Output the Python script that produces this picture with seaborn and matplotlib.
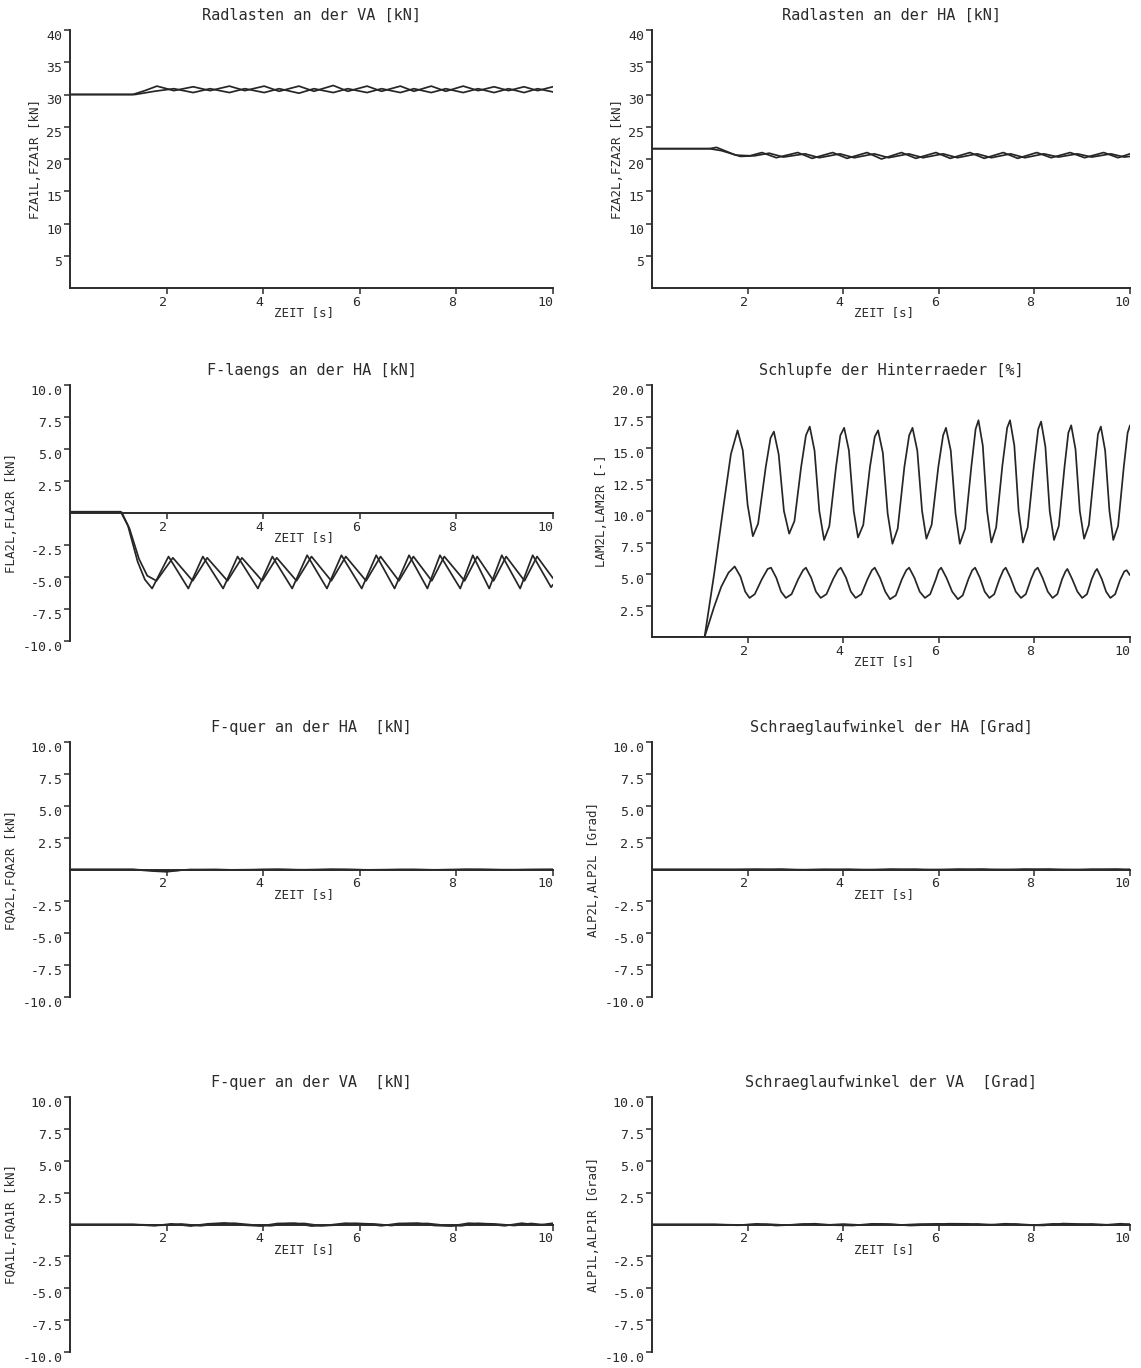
import matplotlib
matplotlib.use("Agg")
import matplotlib.pyplot as plt
import seaborn as sns

# ---------------- data ----------------
# Panel 1: Radlasten an der VA
T_FZA1L = [0, 1.30, 1.55, 1.80, 2.15, 2.55, 2.90, 3.30, 3.62, 4.02, 4.33, 4.74, 5.05, 5.45,
           5.75, 6.15, 6.45, 6.84, 7.12, 7.48, 7.78, 8.14, 8.45, 8.78, 9.08, 9.40, 9.68, 10.0]
FZA1L = [30.0, 30.0, 30.6, 31.3, 30.6, 31.2, 30.6, 31.3, 30.6, 31.3, 30.5, 31.3, 30.5, 31.4,
         30.5, 31.3, 30.5, 31.3, 30.5, 31.3, 30.5, 31.3, 30.6, 31.2, 30.6, 31.2, 30.6, 31.2]
T_FZA1R = [0, 1.35, 1.75, 2.15, 2.55, 2.90, 3.30, 3.62, 4.02, 4.33, 4.74, 5.05, 5.45, 5.75,
           6.15, 6.45, 6.84, 7.12, 7.48, 7.78, 8.14, 8.45, 8.78, 9.08, 9.40, 9.68, 10.0]
FZA1R = [30.0, 30.0, 30.5, 30.9, 30.3, 30.9, 30.3, 30.9, 30.3, 30.9, 30.2, 30.9, 30.3, 30.9,
         30.3, 30.9, 30.3, 30.9, 30.3, 30.9, 30.3, 30.9, 30.3, 30.9, 30.3, 30.9, 30.4]

# Panel 2: Radlasten an der HA
T_FZA2L = [0, 1.20, 1.35, 1.75, 2.05, 2.30, 2.60, 3.05, 3.35, 3.78, 4.08, 4.50, 4.80, 5.22,
           5.52, 5.94, 6.24, 6.65, 6.95, 7.35, 7.65, 8.05, 8.35, 8.75, 9.05, 9.45, 9.75, 10.0]
FZA2L = [21.6, 21.6, 21.8, 20.6, 20.5, 21.0, 20.2, 21.0, 20.1, 21.0, 20.1, 21.0, 20.0, 21.0,
         20.1, 21.0, 20.1, 21.0, 20.1, 21.0, 20.1, 21.0, 20.2, 21.0, 20.2, 21.0, 20.2, 20.8]
T_FZA2R = [0, 1.20, 1.45, 1.85, 2.15, 2.45, 2.75, 3.20, 3.50, 3.93, 4.23, 4.65, 4.95, 5.37,
           5.67, 6.09, 6.39, 6.80, 7.10, 7.50, 7.80, 8.20, 8.50, 8.90, 9.20, 9.60, 9.88, 10.0]
FZA2R = [21.6, 21.6, 21.3, 20.4, 20.5, 20.9, 20.3, 20.8, 20.2, 20.8, 20.2, 20.8, 20.2, 20.8,
         20.2, 20.8, 20.2, 20.8, 20.2, 20.8, 20.2, 20.8, 20.3, 20.8, 20.3, 20.8, 20.3, 20.4]

# Panel 3: F-laengs an der HA
T_FLA2L = [0, 1.05, 1.20, 1.40, 1.55, 1.70, 2.04, 2.45, 2.75, 3.17, 3.47, 3.89, 4.19, 4.60,
           4.91, 5.32, 5.62, 6.04, 6.34, 6.72, 7.02, 7.40, 7.66, 8.08, 8.34, 8.68, 8.94, 9.32,
           9.58, 9.96, 10.0]
FLA2L = [0.1, 0.1, -1.0, -3.8, -5.2, -5.9, -3.4, -5.9, -3.4, -5.9, -3.4, -5.9, -3.4, -5.9,
         -3.3, -5.9, -3.3, -5.9, -3.3, -5.9, -3.3, -5.9, -3.3, -5.9, -3.3, -5.9, -3.3, -5.9,
         -3.3, -5.8, -5.6]
T_FLA2R = [0, 1.07, 1.23, 1.43, 1.60, 1.79, 2.13, 2.54, 2.84, 3.26, 3.56, 3.98, 4.28, 4.69,
           5.00, 5.41, 5.71, 6.13, 6.43, 6.81, 7.11, 7.49, 7.75, 8.17, 8.43, 8.77, 9.03, 9.41,
           9.67, 10.0]
FLA2R = [0.05, 0.05, -1.2, -3.6, -4.9, -5.3, -3.5, -5.3, -3.5, -5.3, -3.5, -5.3, -3.5, -5.3,
         -3.4, -5.3, -3.4, -5.3, -3.4, -5.3, -3.4, -5.3, -3.4, -5.3, -3.4, -5.3, -3.4, -5.3,
         -3.4, -5.1]

# Panel 4: Schlupfe der Hinterraeder
T_LAM_HI = [0, 1.10, 1.30, 1.50, 1.65, 1.79, 1.90, 2.00, 2.11, 2.22, 2.38, 2.48, 2.55, 2.65,
            2.76, 2.87, 2.98, 3.12, 3.22, 3.30, 3.40, 3.50, 3.60, 3.71, 3.85, 3.94, 4.02, 4.12,
            4.22, 4.31, 4.42, 4.56, 4.66, 4.73, 4.83, 4.93, 5.03, 5.14, 5.28, 5.38, 5.45, 5.55,
            5.65, 5.74, 5.85, 5.99, 6.09, 6.15, 6.25, 6.35, 6.44, 6.55, 6.68, 6.77, 6.83, 6.92,
            7.01, 7.10, 7.20, 7.33, 7.43, 7.49, 7.58, 7.67, 7.76, 7.86, 7.99, 8.08, 8.14, 8.23,
            8.32, 8.41, 8.51, 8.63, 8.71, 8.77, 8.86, 8.95, 9.04, 9.14, 9.26, 9.33, 9.39, 9.48,
            9.57, 9.65, 9.75, 9.87, 9.95, 10.0]
LAM_HI = [0.0, 0.0, 5.0, 10.5, 14.5, 16.4, 14.8, 10.5, 8.0, 9.0, 13.5, 15.8, 16.3, 14.5,
          10.0, 8.2, 9.2, 13.5, 16.0, 16.7, 14.8, 10.0, 7.7, 8.8, 13.5, 16.0, 16.6, 14.8,
          10.0, 7.9, 8.9, 13.5, 15.9, 16.4, 14.6, 9.8, 7.4, 8.6, 13.5, 16.0, 16.6, 14.8,
          10.0, 7.8, 8.9, 13.5, 16.0, 16.6, 14.8, 9.8, 7.4, 8.6, 13.5, 16.5, 17.2, 15.2,
          10.0, 7.5, 8.7, 13.6, 16.6, 17.2, 15.2, 10.0, 7.5, 8.7, 13.6, 16.5, 17.1, 15.1,
          10.0, 7.7, 8.8, 13.5, 16.2, 16.8, 14.9, 10.0, 7.8, 8.9, 13.5, 16.1, 16.7, 14.8,
          10.0, 7.7, 8.8, 13.5, 16.2, 16.8]
T_LAM_LO = [0, 1.10, 1.30, 1.45, 1.60, 1.73, 1.85, 1.95, 2.04, 2.15, 2.30, 2.42, 2.49, 2.60,
            2.70, 2.80, 2.92, 3.06, 3.16, 3.22, 3.33, 3.43, 3.53, 3.65, 3.79, 3.89, 3.95, 4.06,
            4.16, 4.26, 4.38, 4.51, 4.60, 4.66, 4.77, 4.88, 4.98, 5.10, 5.23, 5.32, 5.38, 5.49,
            5.60, 5.71, 5.82, 5.94, 6.00, 6.05, 6.16, 6.28, 6.40, 6.50, 6.62, 6.70, 6.76, 6.86,
            6.96, 7.06, 7.16, 7.27, 7.35, 7.40, 7.50, 7.61, 7.72, 7.82, 7.93, 8.01, 8.07, 8.17,
            8.28, 8.38, 8.48, 8.58, 8.65, 8.69, 8.79, 8.90, 9.00, 9.10, 9.20, 9.27, 9.31, 9.41,
            9.50, 9.59, 9.69, 9.79, 9.88, 9.93, 10.0]
LAM_LO = [0.0, 0.0, 2.4, 4.0, 5.1, 5.6, 4.8, 3.6, 3.1, 3.4, 4.6, 5.4, 5.5, 4.7,
          3.6, 3.1, 3.4, 4.6, 5.3, 5.5, 4.7, 3.6, 3.1, 3.4, 4.6, 5.3, 5.5, 4.7,
          3.6, 3.1, 3.4, 4.6, 5.3, 5.5, 4.7, 3.6, 3.0, 3.3, 4.6, 5.3, 5.5, 4.7,
          3.6, 3.1, 3.4, 4.6, 5.3, 5.5, 4.7, 3.6, 3.0, 3.3, 4.6, 5.3, 5.5, 4.7,
          3.6, 3.1, 3.4, 4.6, 5.3, 5.5, 4.7, 3.6, 3.1, 3.4, 4.6, 5.3, 5.5, 4.7,
          3.6, 3.1, 3.4, 4.6, 5.2, 5.4, 4.6, 3.6, 3.1, 3.4, 4.6, 5.2, 5.4, 4.6,
          3.6, 3.1, 3.4, 4.5, 5.2, 5.3, 4.9]

# Panel 5: F-quer an der HA
T_FQA2L = [0, 1.3, 1.7, 2.0, 2.3, 3.0, 3.6, 4.3, 5.0, 5.7, 6.4, 7.1, 7.8, 8.5, 9.2, 10.0]
FQA2L = [0, 0, -0.12, -0.18, -0.05, 0.0, -0.05, 0.02, -0.04, 0.0, -0.04, 0.0, -0.04, 0.0, -0.03, 0.0]
T_FQA2R = [0, 1.3, 1.8, 2.1, 2.5, 3.3, 4.0, 4.7, 5.4, 6.1, 6.8, 7.5, 8.2, 8.9, 9.6, 10.0]
FQA2R = [0, 0, -0.08, -0.1, 0.0, -0.03, 0.0, -0.03, 0.02, -0.03, 0.0, -0.03, 0.02, -0.02, 0.0, 0.0]

# Panel 6: Schraeglaufwinkel der HA
T_ALP2A = [0, 1.3, 2.0, 2.7, 3.4, 4.1, 4.8, 5.5, 6.2, 6.9, 7.6, 8.3, 9.0, 9.7, 10.0]
ALP2A = [0, 0, -0.05, 0.03, -0.05, 0.02, -0.04, 0.02, -0.04, 0.03, -0.03, 0.03, -0.03, 0.03, 0.0]
T_ALP2B = [0, 1.3, 2.2, 2.9, 3.6, 4.3, 5.0, 5.7, 6.4, 7.1, 7.8, 8.5, 9.2, 9.9, 10.0]
ALP2B = [0, 0, 0.03, -0.04, 0.02, -0.04, 0.03, -0.03, 0.03, -0.03, 0.03, -0.03, 0.02, -0.02, 0.0]

# Panel 7: F-quer an der VA
T_FQA1L = [0, 1.3, 1.75, 2.1, 2.5, 2.85, 3.2, 3.6, 3.95, 4.3, 4.65, 5.0, 5.35, 5.7, 6.1, 6.45,
           6.8, 7.2, 7.55, 7.9, 8.25, 8.6, 9.0, 9.35, 9.7, 10.0]
FQA1L = [0, 0, -0.1, 0.05, -0.12, 0.05, 0.12, -0.05, -0.12, 0.08, 0.1, -0.12, -0.05, 0.1, 0.05,
         -0.1, 0.08, 0.1, -0.08, -0.12, 0.1, 0.05, -0.1, 0.1, -0.05, 0.1]
T_FQA1R = [0, 1.3, 1.9, 2.3, 2.7, 3.05, 3.4, 3.8, 4.15, 4.5, 4.85, 5.2, 5.55, 5.9, 6.3, 6.65,
           7.0, 7.4, 7.75, 8.1, 8.45, 8.8, 9.2, 9.55, 9.85, 10.0]
FQA1R = [0, 0, -0.06, 0.04, -0.1, 0.04, 0.1, -0.04, -0.1, 0.06, 0.08, -0.1, -0.04, 0.08, 0.04,
         -0.08, 0.06, 0.08, -0.06, -0.1, 0.08, 0.04, -0.08, 0.08, -0.04, 0.05]

# Panel 8: Schraeglaufwinkel der VA
T_ALP1L = [0, 1.3, 1.8, 2.2, 2.6, 3.0, 3.4, 3.8, 4.2, 4.6, 5.0, 5.4, 5.8, 6.2, 6.6, 7.0, 7.4,
           7.8, 8.2, 8.6, 9.0, 9.4, 9.8, 10.0]
ALP1L = [0, 0, -0.06, 0.05, -0.08, -0.02, 0.06, -0.05, -0.08, 0.05, 0.02, -0.08, -0.03, 0.06,
         0.05, -0.05, 0.06, -0.05, -0.07, 0.07, 0.03, -0.06, 0.06, 0.0]
T_ALP1R = [0, 1.3, 1.9, 2.4, 2.8, 3.2, 3.6, 4.0, 4.4, 4.8, 5.2, 5.6, 6.0, 6.4, 6.8, 7.2, 7.6,
           8.0, 8.4, 8.8, 9.2, 9.6, 10.0]
ALP1R = [0, 0, -0.04, 0.03, -0.05, 0.04, -0.05, 0.03, -0.05, 0.04, -0.04, 0.03, 0.05, -0.04,
         0.04, -0.03, 0.04, -0.05, 0.05, -0.03, 0.04, -0.04, 0.02]

X_TICKS = [2, 4, 6, 8, 10]
X_TICKLABELS = ["2", "4", "6", "8", "10"]
Y_TICKS_LOAD = [5, 10, 15, 20, 25, 30, 35, 40]
Y_TICKS_SYM = [-10, -7.5, -5, -2.5, 2.5, 5, 7.5, 10]
Y_TICKS_SLIP = [2.5, 5, 7.5, 10, 12.5, 15, 17.5, 20]

TITLES = ["Radlasten an der VA [kN]", "Radlasten an der HA [kN]",
          "F-laengs an der HA [kN]", "Schlupfe der Hinterraeder [%]",
          "F-quer an der HA  [kN]", "Schraeglaufwinkel der HA [Grad]",
          "F-quer an der VA  [kN]", "Schraeglaufwinkel der VA  [Grad]"]
YLABELS = ["FZA1L,FZA1R [kN]", "FZA2L,FZA2R [kN]",
           "FLA2L,FLA2R [kN]", "LAM2L,LAM2R [-]",
           "FQA2L,FQA2R [kN]", "ALP2L,ALP2L [Grad]",
           "FQA1L,FQA1R [kN]", "ALP1L,ALP1R [Grad]"]
XLABEL = "ZEIT [s]"

# ---------------- styling ----------------
sns.set_theme(style="white")
plt.rcParams["font.family"] = ["DejaVu Sans Mono"]
INK = "#2b2b2b"
LINE = "#262626"

W, H = 1141, 1368
fig = plt.figure(figsize=(W / 100, H / 100), dpi=100)
fig.patch.set_facecolor("white")


def rect(x0, x1, y_top, y_bot):
    return [x0 / W, 1 - y_bot / H, (x1 - x0) / W, (y_bot - y_top) / H]


LEFT = (70, 553)
RIGHT = (652, 1130)


def panel(r, title, ylabel, series, ylim, yticks, ylabels):
    ax = fig.add_axes(r)
    ax.set_facecolor("white")
    for t, v in series:
        sns.lineplot(x=t, y=v, ax=ax, color=LINE, lw=1.25, sort=False,
                     estimator=None, errorbar=None)
    ax.set_xlim(0, 10)
    ax.set_ylim(*ylim)
    for s in ("top", "right"):
        ax.spines[s].set_visible(False)
    ax.spines["left"].set_position(("data", 0))
    ax.spines["bottom"].set_position(("data", 0))
    for s in ("left", "bottom"):
        ax.spines[s].set_color(INK)
        ax.spines[s].set_linewidth(1.4)
    ax.set_xticks(X_TICKS)
    ax.set_xticklabels(X_TICKLABELS)
    ax.set_yticks(yticks)
    ax.set_yticklabels(ylabels)
    ax.tick_params(axis="both", direction="out", length=4, width=1.1, color=INK,
                   labelcolor=INK, labelsize=9.5, pad=1.5, left=True, bottom=True)
    for lab in ax.get_xticklabels():
        lab.set_horizontalalignment("right")
    for lab in ax.get_yticklabels():
        lab.set_verticalalignment("top")
    ax.set_xlabel("")
    ax.set_ylabel(ylabel, fontsize=9, color=INK, labelpad=3)
    ax.set_title(title, fontsize=11, color=INK, pad=7)
    ax.annotate(XLABEL, xy=(4.85, 0), xycoords="data", xytext=(0, -18),
                textcoords="offset points", ha="center", va="center",
                fontsize=9, color=INK)
    return ax


fmt1 = lambda vals: ["%.1f" % v for v in vals]
fmt0 = lambda vals: ["%d" % v for v in vals]

panel(rect(*LEFT, 30, 288), TITLES[0], YLABELS[0],
      [(T_FZA1L, FZA1L), (T_FZA1R, FZA1R)], (0, 40), Y_TICKS_LOAD, fmt0(Y_TICKS_LOAD))
panel(rect(*RIGHT, 30, 288), TITLES[1], YLABELS[1],
      [(T_FZA2L, FZA2L), (T_FZA2R, FZA2R)], (0, 40), Y_TICKS_LOAD, fmt0(Y_TICKS_LOAD))
panel(rect(*LEFT, 385, 641), TITLES[2], YLABELS[2],
      [(T_FLA2L, FLA2L), (T_FLA2R, FLA2R)], (-10, 10), Y_TICKS_SYM, fmt1(Y_TICKS_SYM))
panel(rect(*RIGHT, 385, 637), TITLES[3], YLABELS[3],
      [(T_LAM_HI, LAM_HI), (T_LAM_LO, LAM_LO)], (0, 20), Y_TICKS_SLIP, fmt1(Y_TICKS_SLIP))
panel(rect(*LEFT, 742, 997), TITLES[4], YLABELS[4],
      [(T_FQA2L, FQA2L), (T_FQA2R, FQA2R)], (-10, 10), Y_TICKS_SYM, fmt1(Y_TICKS_SYM))
panel(rect(*RIGHT, 742, 997), TITLES[5], YLABELS[5],
      [(T_ALP2A, ALP2A), (T_ALP2B, ALP2B)], (-10, 10), Y_TICKS_SYM, fmt1(Y_TICKS_SYM))
panel(rect(*LEFT, 1097, 1352), TITLES[6], YLABELS[6],
      [(T_FQA1L, FQA1L), (T_FQA1R, FQA1R)], (-10, 10), Y_TICKS_SYM, fmt1(Y_TICKS_SYM))
panel(rect(*RIGHT, 1097, 1352), TITLES[7], YLABELS[7],
      [(T_ALP1L, ALP1L), (T_ALP1R, ALP1R)], (-10, 10), Y_TICKS_SYM, fmt1(Y_TICKS_SYM))

fig.savefig("out.png", dpi=100, facecolor="white")
